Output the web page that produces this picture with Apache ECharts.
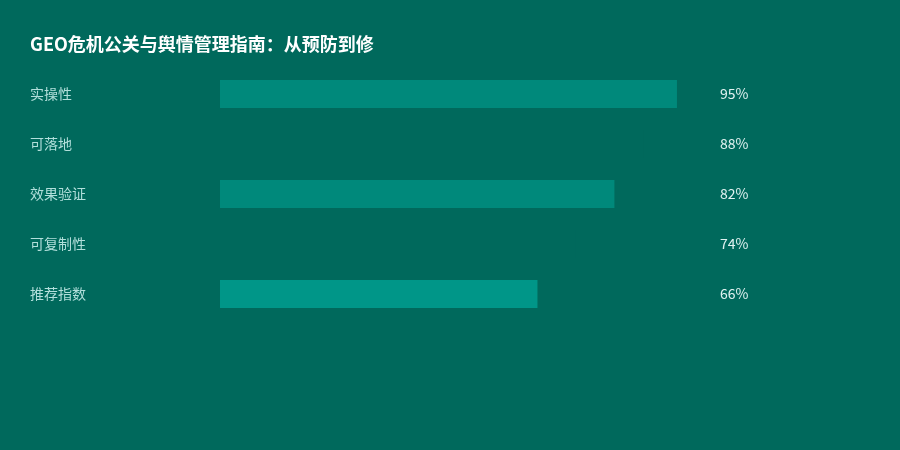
<!DOCTYPE html>
<html>
<head>
<meta charset="utf-8">
<script src="https://cdn.jsdelivr.net/npm/echarts@6/dist/echarts.min.js"></script>
<style>
  html, body { margin: 0; padding: 0; background: #00695C; }
  #main { width: 900px; height: 450px; }
</style>
</head>
<body>
<div id="main"></div>
<script>
var categories = ['实操性', '可落地', '效果验证', '可复制性', '推荐指数'];
var values = [95, 88, 82, 74, 66];
// 第2、4行的条与背景同色
var barColors = ['#00897B', '#00695C', '#00897B', '#00695C', '#009688'];

var chart = echarts.init(document.getElementById('main'), null, { renderer: 'canvas' });

var option = {
  backgroundColor: '#00695C',
  textStyle: {
    fontFamily: '"Noto Sans CJK SC", "Noto Sans", sans-serif'
  },
  title: {
    text: 'GEO危机公关与舆情管理指南：从预防到修',
    left: 25,
    top: 30,
    textStyle: {
      color: '#ffffff',
      fontSize: 18,
      fontWeight: 'bold'
    }
  },
  grid: {
    left: 220,
    right: 199,
    top: 69,
    height: 250
  },
  xAxis: {
    type: 'value',
    min: 0,
    max: 100,
    show: false
  },
  yAxis: [{
    type: 'category',
    inverse: true,
    data: categories,
    axisLine: { show: false },
    axisTick: { show: false },
    axisLabel: {
      color: '#B2DFDB',
      fontSize: 14,
      align: 'left',
      margin: 190
    }
  }, {
    type: 'category',
    inverse: true,
    position: 'right',
    data: values.map(function (v) { return v + '%'; }),
    axisLine: { show: false },
    axisTick: { show: false },
    axisLabel: {
      color: '#E0F2F1',
      fontSize: 14,
      align: 'left',
      margin: 19
    }
  }],
  series: [{
    type: 'bar',
    barWidth: 28,
    silent: true,
    data: values.map(function (v, i) {
      return { value: v, itemStyle: { color: barColors[i] } };
    })
  }]
};

chart.setOption(option);
</script>
</body>
</html>
